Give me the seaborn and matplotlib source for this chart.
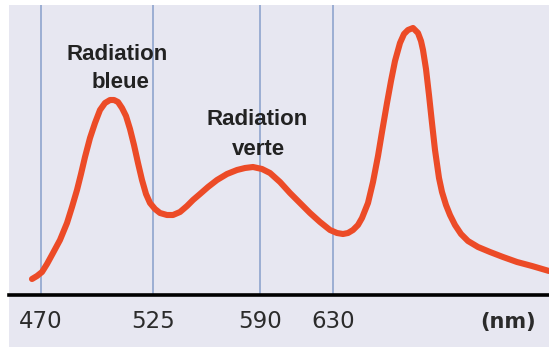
import matplotlib
matplotlib.use("Agg")
import matplotlib.pyplot as plt
import seaborn as sns
import pandas as pd

# ---- data (x position along axis, relative intensity) ----
pos = [32, 37, 42, 47, 53, 60, 67, 72, 77, 81, 85, 90, 95, 100, 105, 110,
       114, 118, 122, 126, 130, 134, 138, 142, 146, 150, 155, 160, 167, 173,
       180, 187, 193, 200, 208, 217, 227, 237, 245, 253, 262, 270, 280, 290,
       300, 310, 320, 330, 337, 343, 348, 353, 358, 362, 368, 373, 378, 382,
       387, 391, 395, 400, 404, 408, 413, 418, 421, 423, 426, 429, 432, 435,
       439, 442, 446, 450, 455, 461, 468, 478, 490, 503, 517, 532, 549]
intensity = [16, 19, 23, 31, 42, 55, 72, 88, 105, 121, 138, 157, 172, 185,
             192, 195, 195, 193, 187, 179, 166, 150, 132, 115, 101, 92, 86,
             82, 80, 80, 83, 89, 95, 101, 108, 115, 121, 125, 127, 128, 126,
             122, 113, 102, 92, 82, 73, 65, 62, 61, 62, 65, 70, 77, 92, 113,
             139, 163, 192, 214, 234, 252, 261, 265, 267, 262, 254, 245, 226,
             200, 172, 145, 117, 103, 90, 80, 70, 61, 54, 48, 43, 38, 33, 29,
             24]

tick_pos = [41, 153, 260, 333]
tick_labels = ["470", "525", "590", "630"]
unit_label = "(nm)"
peak_labels = ["Radiation\nbleue", "Radiation\nverte"]

df = pd.DataFrame({"pos": pos, "intensity": intensity})

sns.set_style("white")
plt.rcParams["font.family"] = ["DejaVu Sans"]

fig = plt.figure(figsize=(5.49, 3.47), dpi=100, facecolor="white")
ax = fig.add_axes([9 / 549, 0, 540 / 549, 342 / 347])
ax.set_facecolor("#e7e7f1")

ymin, ymax = -52, 290
ax.set_xlim(9, 549)
ax.set_ylim(ymin, ymax)

# vertical reference lines
ax.vlines(tick_pos, 0, ymax, colors="#96aad0", linewidth=1.3, zorder=1)

sns.lineplot(data=df, x="pos", y="intensity", sort=False, ax=ax,
             color="#ec4b27", linewidth=4.4, solid_capstyle="round",
             solid_joinstyle="round", zorder=3)

# axis line
for s in ["top", "right", "left"]:
    ax.spines[s].set_visible(False)
ax.spines["bottom"].set_position(("data", 0))
ax.spines["bottom"].set_linewidth(2.6)
ax.spines["bottom"].set_color("black")
ax.spines["bottom"].set_zorder(4)

ax.set_xticks(tick_pos)
ax.set_xticklabels(tick_labels, fontsize=16.5, color="#2b2b2b",
                   family="DejaVu Sans")
ax.tick_params(axis="x", length=0, pad=11)
ax.set_yticks([])
ax.set_xlabel("")
ax.set_ylabel("")

ax.text(508, -33, unit_label, ha="center", va="baseline", fontsize=15,
        fontweight="bold", color="#2b2b2b", family="DejaVu Sans")

# peak annotations (two lines each)
lbl_font = dict(ha="center", va="baseline", fontsize=16, fontweight="bold",
                color="#222222", family="Liberation Sans")
b1, b2 = peak_labels[0].split("\n")
ax.text(117, 295 - 60, b1, **lbl_font)
ax.text(121, 295 - 88, b2, **lbl_font)
v1, v2 = peak_labels[1].split("\n")
ax.text(257, 295 - 125, v1, **lbl_font)
ax.text(258, 295 - 155, v2, **lbl_font)

fig.savefig("out.png", dpi=100, facecolor="white")
